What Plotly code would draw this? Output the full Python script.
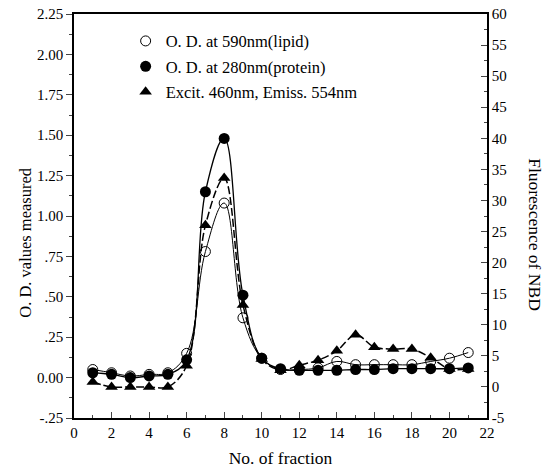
import plotly.graph_objects as go

fractions = list(range(1, 22))
od590_lipid = [0.05, 0.03, 0.01, 0.02, 0.03, 0.15, 0.78, 1.08, 0.37, 0.12, 0.05,
               0.05, 0.06, 0.10, 0.08, 0.08, 0.08, 0.08, 0.10, 0.12, 0.155]
od280_protein = [0.03, 0.02, 0.0, 0.01, 0.02, 0.11, 1.15, 1.48, 0.51, 0.12, 0.055,
                 0.045, 0.045, 0.045, 0.05, 0.05, 0.055, 0.055, 0.055, 0.055, 0.06]
fluor_nbd = [0.8, 0.0, 0.0, 0.0, 0.0, 3.4, 26.0, 33.6, 13.2, 4.5, 2.7,
             3.5, 4.3, 5.8, 8.4, 6.4, 6.1, 6.1, 4.7, 2.9, 2.9]

left_ticks = [2.25, 2.0, 1.75, 1.5, 1.25, 1.0, 0.75, 0.5, 0.25, 0.0, -0.25]
left_ticktext = ["2.25", "2.00", "1.75", "1.50", "1.25", "1.00", ".75", ".50", ".25", "0.00", "-.25"]
right_ticks = [60, 55, 50, 45, 40, 35, 30, 25, 20, 15, 10, 5, 0, -5]
right_ticktext = ["60", "55", "50", "45", "40", "35", "30", "25", "20", "15", "10", "5", "0", "-5"]
x_ticks = list(range(0, 23, 2))

names = ["O. D. at 590nm(lipid)", "O. D. at 280nm(protein)", "Excit. 460nm, Emiss. 554nm"]
FONT = "Liberation Serif, Times New Roman, serif"

fig = go.Figure()

# lines (smooth)
fig.add_trace(go.Scatter(x=fractions, y=od590_lipid, mode="lines", line=dict(color="black", width=1, shape="spline", smoothing=1.1), showlegend=False, hoverinfo="skip"))
fig.add_trace(go.Scatter(x=fractions, y=od280_protein, mode="lines", line=dict(color="black", width=1.3, shape="spline", smoothing=1.1), showlegend=False, hoverinfo="skip"))
fig.add_trace(go.Scatter(x=fractions, y=fluor_nbd, mode="lines", yaxis="y2", line=dict(color="black", width=1.5, dash="8px,3px", shape="spline", smoothing=1.0), showlegend=False, hoverinfo="skip"))

# markers
fig.add_trace(go.Scatter(x=fractions, y=od590_lipid, mode="markers", name=names[0], legendgroup="a",
                         marker=dict(symbol="circle-open", size=10, color="black", line=dict(width=1))))
fig.add_trace(go.Scatter(x=fractions, y=od280_protein, mode="markers", name=names[1], legendgroup="b",
                         marker=dict(symbol="circle", size=11, color="black")))
fig.add_trace(go.Scatter(x=fractions, y=fluor_nbd, mode="markers", name=names[2], yaxis="y2", legendgroup="c",
                         marker=dict(symbol="triangle-up", size=11, color="black")))

fig.update_layout(
    width=549, height=472,
    margin=dict(l=74, r=62, t=14, b=54),
    paper_bgcolor="white", plot_bgcolor="white",
    font=dict(family=FONT, size=15, color="black"),
    showlegend=True,
    legend=dict(x=0.125, y=0.976, xanchor="left", yanchor="top", bgcolor="rgba(0,0,0,0)",
                font=dict(family=FONT, size=16.5), tracegroupgap=1, traceorder="grouped"),
    xaxis=dict(range=[0, 22], tickvals=x_ticks, ticks="inside", ticklen=6, tickwidth=1.2, automargin=False,
               minor=dict(dtick=1, ticks="inside", ticklen=3), showline=True, linecolor="black", linewidth=1.5,
               mirror=True, showgrid=False, zeroline=False,
               title=dict(text="No. of fraction", font=dict(family=FONT, size=17.5), standoff=12)),
    yaxis=dict(range=[-0.25, 2.25], tickvals=left_ticks, ticktext=left_ticktext, ticks="outside", ticklen=6,
               tickwidth=1.2, minor=dict(dtick=0.125, tick0=0, ticks="outside", ticklen=3), automargin=False,
               showline=True, linecolor="black", linewidth=1.5, showgrid=False, zeroline=False),
    yaxis2=dict(range=[-5, 60], tickvals=right_ticks, ticktext=right_ticktext, overlaying="y", side="right",
                ticks="inside", ticklen=6, tickwidth=1.2, minor=dict(dtick=2.5, tick0=0, ticks="inside", ticklen=3),
                automargin=False,
                showline=True, linecolor="black", linewidth=1.5, showgrid=False, zeroline=False),
    annotations=[
        dict(text="O. D. values measured", xref="paper", yref="paper", x=0.0, y=0.435,
             xshift=-60, textangle=-90, showarrow=False, font=dict(family=FONT, size=16.5)),
        dict(text="Fluorescence of NBD", xref="paper", yref="paper", x=1.0, y=0.455,
             xshift=60, textangle=90, showarrow=False, font=dict(family=FONT, size=17.5)),
    ],
)

fig.write_html("out.html")
